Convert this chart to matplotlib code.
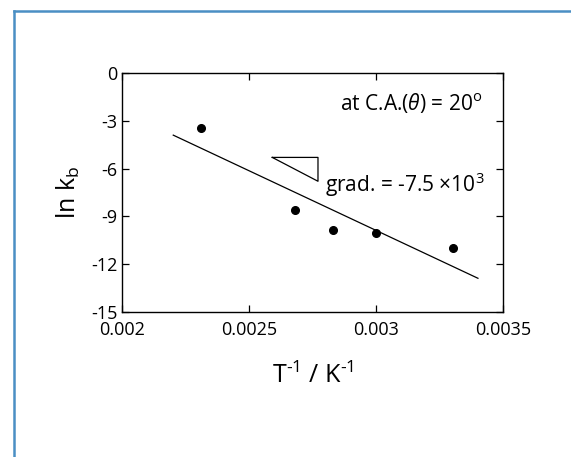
import numpy as np
import matplotlib
matplotlib.use('Agg')
import matplotlib.pyplot as plt
from matplotlib.lines import Line2D

plt.rcParams['font.family'] = ['Open Sans', 'DejaVu Sans']
plt.rcParams['mathtext.fontset'] = 'custom'
plt.rcParams['mathtext.rm'] = 'Open Sans'
plt.rcParams['mathtext.it'] = 'Open Sans:italic'
plt.rcParams['axes.unicode_minus'] = False

# inverse temperature (1/K) and ln kb
inv_T = [0.00231, 0.00268, 0.00283, 0.00300, 0.00330]
ln_kb = [-3.44, -8.58, -9.89, -10.08, -10.98]

# fitted line, gradient -7.5e3
fit_x = [0.0022, 0.0034]
fit_y = [-3.9, -12.9]

# slope triangle corners
tri_x = [0.00259, 0.00277, 0.00277, 0.00259]
tri_y = [-5.3, -5.3, -6.8, -5.3]

x_ticks = [0.002, 0.0025, 0.003, 0.0035]
x_labels = ['0.002', '0.0025', '0.003', '0.0035']
y_ticks = [0, -3, -6, -9, -12, -15]
y_labels = ['0', '-3', '-6', '-9', '-12', '-15']

fig = plt.figure(figsize=(5.71, 4.57), dpi=100)
ax = fig.add_axes([0.2145, 0.318, 0.667, 0.522])

ax.plot(fit_x, fit_y, color='black', lw=0.9)
ax.plot(tri_x, tri_y, color='black', lw=0.9)
ax.plot(inv_T, ln_kb, 'o', color='black', ms=5.5, ls='none')

ax.set_xlim(0.002, 0.0035)
ax.set_ylim(-15, 0)
ax.set_xticks(x_ticks)
ax.set_xticklabels(x_labels)
ax.set_yticks(y_ticks)
ax.set_yticklabels(y_labels)
ax.tick_params(direction='in', top=True, right=True, length=5, width=0.9,
               labelsize=13, colors='black')
ax.tick_params(axis='x', pad=7)
ax.tick_params(axis='y', pad=3.5)
for s in ax.spines.values():
    s.set_linewidth(1.0)

ax.set_xlabel(r'T$^{\text{-}1}$ / K$^{\text{-}1}$', fontsize=18)
ax.set_ylabel(r'ln k$_{\rm b}$', fontsize=18)
ax.xaxis.set_label_coords(0.5, -0.215)
ax.yaxis.set_label_coords(-0.106, 0.5)

ax.text(0.944, 0.846, r'at C.A.($\theta$) = 20$^{\rm o}$', transform=ax.transAxes,
        ha='right', va='baseline', fontsize=15)
ax.text(0.532, 0.503, r'grad. = -7.5 $\times$10$^3$', transform=ax.transAxes,
        ha='left', va='baseline', fontsize=15)

# blue frame on the left and top
frame_c = '#4a8fc4'
fig.add_artist(Line2D([0.0245, 0.0245], [0.0, 0.976], color=frame_c, lw=1.8,
                      transform=fig.transFigure))
fig.add_artist(Line2D([0.0245, 1.0], [0.976, 0.976], color=frame_c, lw=1.8,
                      transform=fig.transFigure))

fig.savefig('out.png', dpi=100)
